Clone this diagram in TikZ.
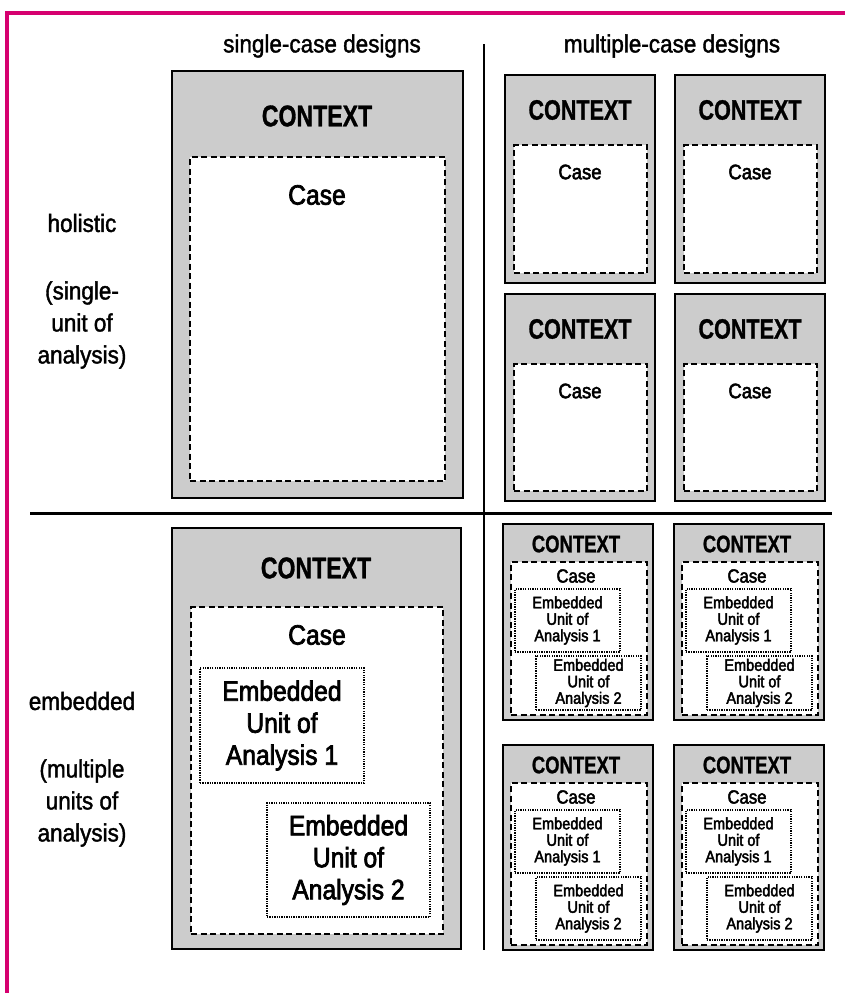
\documentclass[tikz,border=0pt]{standalone}
\usepackage{fontspec}
\setmainfont{Liberation Sans}
\newfontfamily\hdf{Liberation Sans}[FakeStretch=0.9,FakeBold=1.5]
\newfontfamily\cxf{Liberation Sans Bold}[FakeStretch=0.77,FakeBold=1]
\newfontfamily\csf{Liberation Sans}[FakeStretch=0.88,FakeBold=2.5]
\definecolor{mag}{RGB}{214,0,111}
\definecolor{ctxgray}{gray}{0.8}
\newcommand\holsmall[4]{% id, L, T, H
  \node[outerbox, minimum width=150pt, minimum height=#4pt] (#1) at (#2,#3) {};
  \node[ctxM] (#1-ctx) at ({#2+75},{#3+35}) {CONTEXT};
  \node[casebox, minimum width=133pt, minimum height=#4pt-80pt] (#1-case) at ({#2+9},{#3+70}) {};
  \node[caseM] (#1-cl) at ({#2+75},{#3+97}) {Case};
}
\newcommand\embsmall[4]{% id, L, T, H
  \node[outerbox, minimum width=150pt, minimum height=#4pt] (#1) at (#2,#3) {};
  \node[ctxS] (#1-ctx) at ({#2+73},{#3+20}) {CONTEXT};
  \node[casebox, minimum width=136pt, minimum height=#4pt-43pt] (#1-case) at ({#2+8},{#3+38}) {};
  \node[caseS] (#1-cl) at ({#2+73},{#3+52}) {Case};
  \node[embbox, minimum width=105pt, minimum height=63pt] (#1-e1) at ({#2+12},{#3+65}) {};
  \node[embS] (#1-e1t) at (#1-e1.center) {Embedded\\Unit of\\Analysis 1};
  \node[embbox, minimum width=105pt, minimum height=#4pt-142pt] (#1-e2) at ({#2+33},{#3+132}) {};
  \node[embS] (#1-e2t) at (#1-e2.center) {Embedded\\Unit of\\Analysis 2};
}
\begin{document}
\begin{tikzpicture}[x=1pt,y=-1pt,
  outerbox/.style={draw=black, line width=1.6pt, fill=ctxgray, anchor=north west, inner sep=0pt, outer sep=0pt},
  casebox/.style={draw=black, line width=1.4pt, dash pattern=on 6pt off 3.5pt, fill=white, anchor=north west, inner sep=0pt, outer sep=0pt},
  embbox/.style={draw=black, line width=1.2pt, dash pattern=on 1.3pt off 1.1pt, fill=white, anchor=north west, inner sep=0pt, outer sep=0pt},
  hdtext/.style={font=\hdf\fontsize{25}{32}\selectfont, align=center, inner sep=0pt},
  ctxL/.style={font=\cxf\fontsize{30}{30}\selectfont, inner sep=0pt},
  ctxM/.style={font=\cxf\fontsize{28}{28}\selectfont, inner sep=0pt},
  ctxS/.style={font=\cxf\fontsize{24}{24}\selectfont, inner sep=0pt},
  caseL/.style={font=\csf\fontsize{28}{32}\selectfont, align=center, inner sep=0pt},
  caseM/.style={font=\csf\fontsize{21}{21}\selectfont, inner sep=0pt},
  caseS/.style={font=\csf\fontsize{19}{19}\selectfont, inner sep=0pt},
  embS/.style={font=\csf\fontsize{16.5}{16.5}\selectfont, align=center, inner sep=0pt},
]
\useasboundingbox (0,0) rectangle (845,993);
\fill[white] (0,0) rectangle (845,993);
% frame
\draw[mag, line width=4pt] (845,13) -- (7,13) -- (7,993);
% headers
\node[hdtext] (hsingle) at (322,46) {single-case designs};
\node[hdtext] (hmulti) at (672,46) {multiple-case designs};
% side labels
\node[hdtext] (lhol) at (82,223) {holistic};
\node[hdtext] (lhol2) at (82,325) {(single-\\unit of\\analysis)};
\node[hdtext] (lemb) at (82,701) {embedded};
\node[hdtext] (lemb2) at (82,803) {(multiple\\units of\\analysis)};
% dividers
\coordinate (vt) at (484,44);
\coordinate (vb) at (484,950);
\coordinate (hl) at (30,513);
\coordinate (hr) at (832,513);
\draw[line width=2pt] (vt) -- (vb);
\draw[line width=3pt] (hl) -- (hr);
% big holistic
\node[outerbox, minimum width=291pt, minimum height=427pt] (bh) at (172,71) {};
\node[ctxL] (bh-ctx) at (317,116) {CONTEXT};
\node[casebox, minimum width=255pt, minimum height=324pt] (bh-case) at (190,157) {};
\node[caseL] (bh-cl) at (317,195) {Case};
% big embedded
\node[outerbox, minimum width=289pt, minimum height=421pt] (be) at (172,528) {};
\node[ctxL] (be-ctx) at (316,568) {CONTEXT};
\node[casebox, minimum width=252pt, minimum height=327pt] (be-case) at (191,607) {};
\node[caseL] (be-cl) at (317,635) {Case};
\node[embbox, minimum width=164pt, minimum height=115pt] (be-e1) at (200,668) {};
\node[caseL] (be-e1t) at (be-e1.center) {Embedded\\Unit of\\Analysis 1};
\node[embbox, minimum width=163pt, minimum height=114pt] (be-e2) at (267,803) {};
\node[caseL] (be-e2t) at (be-e2.center) {Embedded\\Unit of\\Analysis 2};
% multiple holistic
\holsmall{h11}{505}{75}{208}
\holsmall{h12}{675}{75}{208}
\holsmall{h21}{505}{294}{207}
\holsmall{h22}{675}{294}{207}
% multiple embedded
\embsmall{e11}{503}{524}{196}
\embsmall{e12}{674}{524}{196}
\embsmall{e21}{503}{745}{205}
\embsmall{e22}{674}{745}{205}
\end{tikzpicture}
\end{document}
